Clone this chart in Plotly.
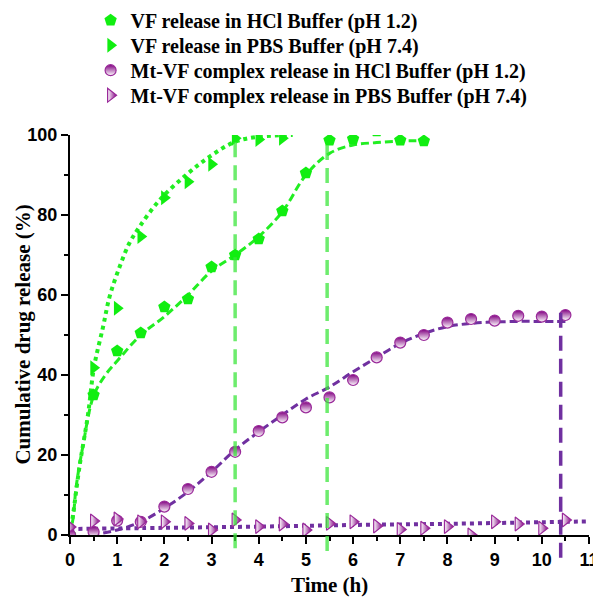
import plotly.graph_objects as go

# ---------------- data ----------------
t_vf_hcl = [0, 0.5, 1, 1.5, 2, 2.5, 3, 3.5, 4, 4.5, 5, 5.5, 6, 6.5, 7, 7.5]
vf_hcl = [0, 35, 46, 50.5, 57, 59, 67, 70, 74, 81, 90.5, 98.7, 99, 101, 98.7, 98.5]

t_vf_pbs = [0, 0.5, 1, 1.5, 2, 2.5, 3, 3.5, 4, 4.5]
vf_pbs = [0, 41.8, 56.7, 74.6, 84.3, 88.3, 92.7, 99.2, 98.9, 99.2]

t_mt = [0, 0.5, 1, 1.5, 2, 2.5, 3, 3.5, 4, 4.5, 5, 5.5, 6, 6.5, 7, 7.5, 8, 8.5, 9, 9.5, 10, 10.5]
mt_hcl = [0, 0.8, 3.6, 3.3, 7.1, 11.5, 15.8, 20.8, 26, 29.4, 31.9, 34.4, 38.75, 44.4, 48.1, 50,
          53.1, 54, 53.6, 54.8, 54.6, 55]
mt_pbs = [2, 3.5, 4, 3.3, 3.3, 2.9, 1.25, 3.75, 2.1, 2.75, 1.25, 2.9, 3.3, 2.25, 1.4, 1.7,
          2.1, 0, 3.3, 2.75, 1.7, 3.75]

# fitted curves
fit_vf_hcl_t = [0, 0.07, 0.13, 0.27, 0.5, 0.75, 1, 1.5, 2, 2.5, 3, 3.5, 4, 4.5, 5, 5.5, 6, 6.5, 7, 7.5]
fit_vf_hcl = [0, 4.6, 12, 22, 34.8, 40, 43.5, 50, 54.6, 60, 66, 70, 74.6, 80.8, 90, 95.4, 97.5, 98.1, 98.5, 98.6]

fit_vf_pbs_t = [0, 0.07, 0.2, 0.38, 0.51, 0.7, 0.84, 1.05, 1.26, 1.47, 1.9, 2.46, 2.96, 3.5, 4.02, 4.72]
fit_vf_pbs = [0, 5.5, 17, 30, 42, 52, 59.6, 67, 73, 77, 83.75, 90, 94.6, 98.3, 99.6, 100]

fit_mt_hcl_t = [0.45, 1, 1.5, 2, 2.5, 3, 3.5, 4, 4.5, 5, 5.5, 6, 6.5, 7, 7.5, 8, 8.5, 9, 9.5, 10, 10.5]
fit_mt_hcl = [0, 1.25, 3.3, 6.7, 10.8, 15.8, 21.25, 25.8, 30, 34, 37, 40.8, 44.4, 47.9, 50.4, 52.1,
              52.9, 53.25, 53.4, 53.4, 53.4]

fit_mt_pbs_t = [0, 2, 4, 6, 8, 10, 11]
fit_mt_pbs = [1.5, 1.8, 2.1, 2.5, 2.8, 3.2, 3.4]

# vertical marker lines
vline_t = [3.5, 5.45, 10.4]
vline_top = [100, 99.5, 56.5]
vline_bottom = [-3.3, -4, -5.7]
vline_color = ["rgba(60,230,60,0.75)", "rgba(60,230,60,0.75)", "#7030A0"]

names = ["VF release in HCl Buffer (pH 1.2)",
         "VF release in PBS Buffer (pH 7.4)",
         "Mt-VF complex release in HCl Buffer (pH 1.2)",
         "Mt-VF complex release in PBS Buffer (pH 7.4)"]

x_title = "Time (h)"
y_title = "Cumulative drug release (%)"

GREEN = "#11EE11"
GREEN_LINE = "#22EE22"
PURPLE = "#800080"
VIOLET = "#7030A0"

fig = go.Figure()

# fitted lines
fig.add_trace(go.Scatter(x=fit_vf_hcl_t, y=fit_vf_hcl, mode="lines", line_shape="spline",
                         line=dict(color=GREEN_LINE, width=3, dash="8px,4px"), showlegend=False))
fig.add_trace(go.Scatter(x=fit_vf_pbs_t, y=fit_vf_pbs, mode="lines", line_shape="spline",
                         line=dict(color=GREEN_LINE, width=4, dash="4px,4px"), showlegend=False))
fig.add_trace(go.Scatter(x=fit_mt_hcl_t, y=fit_mt_hcl, mode="lines", line_shape="spline",
                         line=dict(color=VIOLET, width=3, dash="8px,4px"), showlegend=False))
fig.add_trace(go.Scatter(x=fit_mt_pbs_t, y=fit_mt_pbs, mode="lines", line_shape="spline",
                         line=dict(color=VIOLET, width=4, dash="4px,4px"), showlegend=False))

# data markers (each in its own legend box so row spacing can match the reference)
fig.add_trace(go.Scatter(x=t_vf_hcl, y=vf_hcl, mode="markers", name=names[0], legend="legend",
                         marker=dict(symbol="pentagon", size=13, color=GREEN, line=dict(width=0))))
fig.add_trace(go.Scatter(x=t_vf_pbs, y=vf_pbs, mode="markers", name=names[1], legend="legend2",
                         marker=dict(symbol="triangle-right", size=13, color=GREEN, line=dict(width=0))))
fig.add_trace(go.Scatter(x=t_mt, y=mt_hcl, mode="markers", name=names[2], legend="legend3",
                         marker=dict(symbol="circle", size=11, color=PURPLE,
                                     gradient=dict(type="vertical", color="white"),
                                     line=dict(color="#9A2A9A", width=1.2))))
fig.add_trace(go.Scatter(x=t_mt, y=mt_pbs, mode="markers", name=names[3], legend="legend4",
                         marker=dict(symbol="triangle-right", size=12, color="white",
                                     gradient=dict(type="horizontal", color=PURPLE),
                                     line=dict(color="#9A2A9A", width=1.2))))

# layout geometry: page has an 8px body margin, so the figure is offset by 8px
OFF = 8
W = H = 601 - OFF
# target plot box in page pixels
PL, PR, PT, PB = 70.4, 589.5, 135, 535
L, R, T, B = PL - OFF, W - (PR - OFF), PT - OFF, H - (PB - OFF)
ymin, ymax = 0, 100
plot_w = PR - PL
plot_h = PB - PT

def paper_y(v):
    return (v - ymin) / (ymax - ymin)

for xv, yt, yb, c in zip(vline_t, vline_top, vline_bottom, vline_color):
    fig.add_shape(type="line", xref="x", yref="paper", x0=xv, x1=xv,
                  y0=paper_y(yb), y1=paper_y(yt),
                  line=dict(color=c, width=3.5, dash="15px,8px"), layer="above")

tickfont = dict(family="Liberation Sans", size=18, color="black", weight="bold")
titlefont = dict(family="Liberation Serif", size=21, color="black", weight="bold")
legfont = dict(family="Liberation Serif", size=20, color="black", weight="bold")

# axis titles as annotations (fixed pixel placement)
fig.add_annotation(text=y_title, xref="paper", yref="paper", x=0, y=0.5, xshift=-(PL - 23),
                   textangle=-90, showarrow=False, font=titlefont, xanchor="center", yanchor="middle")
fig.add_annotation(text=x_title, xref="paper", yref="paper", x=0.5, y=-(585 - PB) / plot_h,
                   showarrow=False, font=titlefont, xanchor="center", yanchor="middle")

# legend rows (page pixel centre of each row)
row_centres = [21.7, 46.7, 71.7, 96.7]
ROW_OFFSET = 21  # distance from legend box top to row centre
def legend_box(yc):
    top_page = yc - ROW_OFFSET
    return dict(xref="paper", yref="paper", x=(91 - PL) / plot_w, y=(PB - top_page) / plot_h,
                xanchor="left", yanchor="top", font=legfont,
                bgcolor="rgba(0,0,0,0)", itemwidth=30)

fig.update_layout(
    width=W, height=H,
    margin=dict(l=L, r=R, t=T, b=B, autoexpand=False),
    paper_bgcolor="white", plot_bgcolor="white",
    legend=legend_box(row_centres[0]),
    legend2=legend_box(row_centres[1]),
    legend3=legend_box(row_centres[2]),
    legend4=legend_box(row_centres[3]),
    xaxis=dict(range=[0, 11], tickmode="array", tickvals=list(range(0, 12)), automargin=False,
               showline=True, linecolor="black", linewidth=2, mirror=False,
               ticks="outside", ticklen=7, tickwidth=2, tickcolor="black",
               minor=dict(tickvals=[i + 0.5 for i in range(11)], ticks="outside", ticklen=4,
                          tickwidth=1.5, tickcolor="black"),
               showgrid=False, zeroline=False, tickfont=tickfont),
    yaxis=dict(range=[ymin, ymax], tickmode="array", tickvals=[0, 20, 40, 60, 80, 100], automargin=False,
               showline=True, linecolor="black", linewidth=2, mirror=False,
               ticks="outside", ticklen=7, tickwidth=2, tickcolor="black",
               minor=dict(tickvals=[10, 30, 50, 70, 90], ticks="outside", ticklen=4,
                          tickwidth=1.5, tickcolor="black"),
               showgrid=False, zeroline=False, tickfont=tickfont),
)

fig.write_html("out.html")
